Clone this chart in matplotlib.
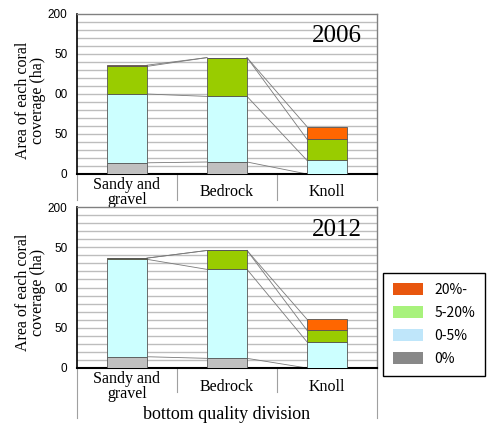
import matplotlib
matplotlib.use("Agg")
import matplotlib.pyplot as plt
from matplotlib.patches import Patch
import numpy as np

# ---------------- data ----------------
categories = ["Sandy and\ngravel", "Bedrock", "Knoll"]
series_names = ["0%", "0-5%", "5-20%", "20%-"]

cov_2006_0 = [14, 15, 0]
cov_2006_0_5 = [86, 82, 17]
cov_2006_5_20 = [34.5, 48.5, 26.5]
cov_2006_20 = [1.5, 0, 15.7]

cov_2012_0 = [14, 12, 0]
cov_2012_0_5 = [121, 110.5, 32.5]
cov_2012_5_20 = [1.5, 23.5, 14.3]
cov_2012_20 = [0, 0, 13.7]

ytick_values = [0, 50, 100, 150, 200]
ytick_labels = ["0", "50", "00", "50", "200"]

legend_labels = ["20%-", "5-20%", "0-5%", "0%"]

# ---------------- style ----------------
bar_colors = ["#c0c0c0", "#ccffff", "#99cc00", "#ff6600"]
legend_colors = ["#e8560e", "#a8f27c", "#bfe6fa", "#888888"]
serif = ["Liberation Serif", "DejaVu Serif"]
sans = ["Liberation Sans", "DejaVu Sans"]
jp = ["Noto Sans CJK JP", "DejaVu Sans"]

W, H = 489, 433
fig = plt.figure(figsize=(W / 100, H / 100), dpi=100)


def px_axes(x0, y0, x1, y1):
    return fig.add_axes([x0 / W, 1 - y1 / H, (x1 - x0) / W, (y1 - y0) / H])


def draw_panel(ax, stacks, year, sep_depth):
    x = np.arange(len(categories)) + 0.5
    width = 0.4
    bottoms = np.zeros(len(categories))
    tops_list = []
    for vals, col in zip(stacks, bar_colors):
        vals = np.array(vals, dtype=float)
        ax.bar(x, vals, width, bottom=bottoms, color=col,
               edgecolor="#555555", linewidth=0.6, zorder=3)
        bottoms = bottoms + vals
        tops_list.append(bottoms.copy())
    # series lines connecting the bars
    for tops in tops_list:
        for i in range(len(categories) - 1):
            ax.plot([x[i] + width / 2, x[i + 1] - width / 2],
                    [tops[i], tops[i + 1]], color="#7a7a7a",
                    linewidth=0.6, zorder=2)
    ax.set_xlim(0, 3)
    ax.set_ylim(0, 200)
    ax.set_yticks(ytick_values)
    ax.set_yticklabels(ytick_labels, fontfamily=sans, fontsize=8.5)
    ax.tick_params(axis="y", length=0, pad=7)
    ax.set_xticks([])
    for yv in range(10, 200, 10):
        ax.axhline(yv, color="#bdbdbd", linewidth=1.0, zorder=1)
    ax.spines["left"].set_color("black")
    ax.spines["left"].set_linewidth(1.2)
    ax.spines["bottom"].set_color("black")
    ax.spines["bottom"].set_linewidth(1.5)
    for s in ("top", "right"):
        ax.spines[s].set_color("#808080")
        ax.spines[s].set_linewidth(1.0)
    # category separators below the axis
    tr = ax.get_xaxis_transform()
    for xs in range(4):
        ax.plot([xs, xs], [0, -sep_depth[xs]], color="#a0a0a0",
                linewidth=0.8, transform=tr, clip_on=False)
    for xc, lab in zip(x, categories):
        ax.text(xc, -0.115, lab, transform=tr, ha="center", va="center",
                fontfamily=serif, fontsize=11.5, linespacing=0.9)
    ax.text(0.95, 0.86, year, transform=ax.transAxes, ha="right",
            va="center", fontfamily=serif, fontsize=18)
    ax.set_ylabel("Area of each coral\ncoverage (ha)", fontfamily=serif,
                  fontsize=11.5, linespacing=0.95)


ax1 = px_axes(77, 14, 377, 174)
draw_panel(ax1, [cov_2006_0, cov_2006_0_5, cov_2006_5_20, cov_2006_20],
           "2006", [0.16, 0.16, 0.16, 0.16])
ax1.yaxis.set_label_coords(-0.102, 0.46)

ax2 = px_axes(77, 207, 377, 368)
draw_panel(ax2, [cov_2012_0, cov_2012_0_5, cov_2012_5_20, cov_2012_20],
           "2012", [0.31, 0.15, 0.15, 0.31])
ax2.yaxis.set_label_coords(-0.102, 0.47)
ax2.text(0.5, -0.29, "bottom quality division", transform=ax2.transAxes,
         ha="center", va="center", fontfamily=serif, fontsize=13)

handles = [Patch(facecolor=c, edgecolor="none") for c in legend_colors]
leg = fig.legend(handles, legend_labels, loc="upper left",
                 bbox_to_anchor=(383 / W, 1 - 273 / H), borderaxespad=0,
                 prop={"family": jp, "size": 10}, handlelength=2.2,
                 handleheight=1.0, handletextpad=0.8, labelspacing=0.65,
                 borderpad=0.7, fancybox=False, framealpha=1,
                 edgecolor="black")
leg.get_frame().set_linewidth(1.0)

fig.savefig("out.png", dpi=100)
